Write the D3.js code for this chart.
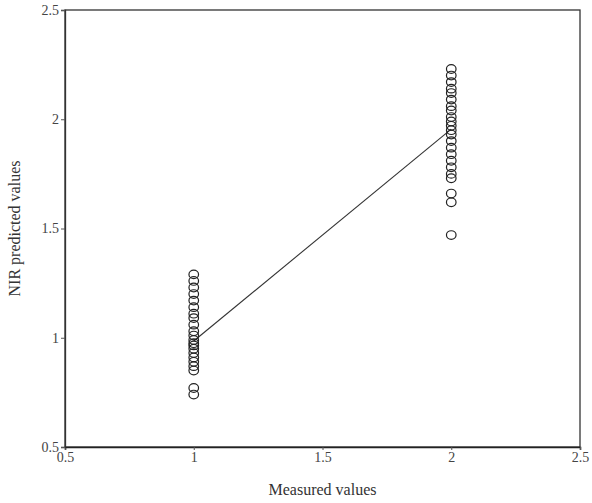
<!DOCTYPE html>
<html>
<head>
<meta charset="utf-8">
<script src="https://cdn.jsdelivr.net/npm/d3@7"></script>
<style>
    body { margin: 0; background: #fff; }
    svg text { font-family: "Liberation Serif", "DejaVu Serif", serif; }
</style>
</head>
<body>
<svg id="drawing" width="592" height="503"></svg>
<script>
// measured = 1 group (predicted values)
const group1 = [1.29, 1.26, 1.23, 1.20, 1.17, 1.14, 1.11, 1.09, 1.06, 1.03, 1.01,
    0.99, 0.975, 0.965, 0.95, 0.93, 0.91, 0.89, 0.87, 0.85, 0.77, 0.74]
// measured = 2 group
const group2 = [2.23, 2.20, 2.17, 2.14, 2.12, 2.09, 2.06, 2.04, 2.01, 1.99, 1.97,
    1.95, 1.93, 1.90, 1.87, 1.84, 1.81, 1.78, 1.75, 1.73, 1.66, 1.62, 1.47]
const measured = [1, 2]
// regression line end points
const fitLine = [{ x: 1, y: 0.985 }, { x: 2, y: 1.955 }]
const xTicks = [0.5, 1, 1.5, 2, 2.5]
const yTicks = [0.5, 1, 1.5, 2, 2.5]

const margin = { top: 10, right: 12, bottom: 56, left: 65 }
const width = 592
const height = 503

const x = d3.scaleLinear()
    .domain([0.5, 2.5])
    .range([margin.left, width - margin.right])

const y = d3.scaleLinear()
    .domain([0.5, 2.5])
    .range([height - margin.bottom, margin.top])

const svg = d3.select("#drawing")

const points = []
group1.forEach(v => points.push({ x: measured[0], y: v }))
group2.forEach(v => points.push({ x: measured[1], y: v }))

// frame
svg.append("rect")
    .attr("x", x(0.5))
    .attr("y", y(2.5))
    .attr("width", x(2.5) - x(0.5))
    .attr("height", y(0.5) - y(2.5))
    .attr("fill", "none")
    .attr("stroke", "#333")
    .attr("stroke-width", 1.3)

const xAxis = g => g
    .attr("transform", `translate(0,${y(0.5)})`)
    .call(d3.axisBottom(x).tickValues(xTicks).tickSize(3).tickPadding(2).tickFormat(d3.format("")))
    .call(g => g.select(".domain").attr("stroke", "#222").attr("stroke-width", 1.6))
    .call(g => g.selectAll(".tick line").attr("stroke", "#555"))
    .call(g => g.selectAll(".tick text")
        .attr("font-size", 14)
        .attr("fill", "#444")
        .attr("font-family", "Liberation Serif, serif"))

const yAxis = g => g
    .attr("transform", `translate(${x(0.5)},0)`)
    .call(d3.axisLeft(y).tickValues(yTicks).tickSize(4).tickPadding(2).tickFormat(d3.format("")))
    .call(g => g.select(".domain").attr("stroke", "#333").attr("stroke-width", 1.3))
    .call(g => g.selectAll(".tick line").attr("stroke", "#555"))
    .call(g => g.selectAll(".tick text")
        .attr("font-size", 14)
        .attr("fill", "#444")
        .attr("font-family", "Liberation Serif, serif"))

svg.append("g").call(xAxis)
svg.append("g").call(yAxis)

// fitted line
const line = d3.line()
    .x(d => x(d.x))
    .y(d => y(d.y))

svg.append("path")
    .datum(fitLine)
    .attr("d", line)
    .attr("fill", "none")
    .attr("stroke", "#333")
    .attr("stroke-width", 1.1)

// data circles
svg.append("g")
    .selectAll("ellipse")
    .data(points)
    .join("ellipse")
    .attr("cx", d => x(d.x))
    .attr("cy", d => y(d.y))
    .attr("rx", 4.8)
    .attr("ry", 4.3)
    .attr("fill", "none")
    .attr("stroke", "#222")
    .attr("stroke-width", 1.2)

// axis titles
svg.append("text")
    .attr("x", (x(0.5) + x(2.5)) / 2)
    .attr("y", 495)
    .attr("text-anchor", "middle")
    .attr("font-size", 16)
    .attr("fill", "#333")
    .text("Measured values")

svg.append("text")
    .attr("transform", `translate(20,${(y(0.5) + y(2.5)) / 2}) rotate(-90)`)
    .attr("text-anchor", "middle")
    .attr("font-size", 16)
    .attr("fill", "#333")
    .text("NIR predicted values")
</script>
</body>
</html>
